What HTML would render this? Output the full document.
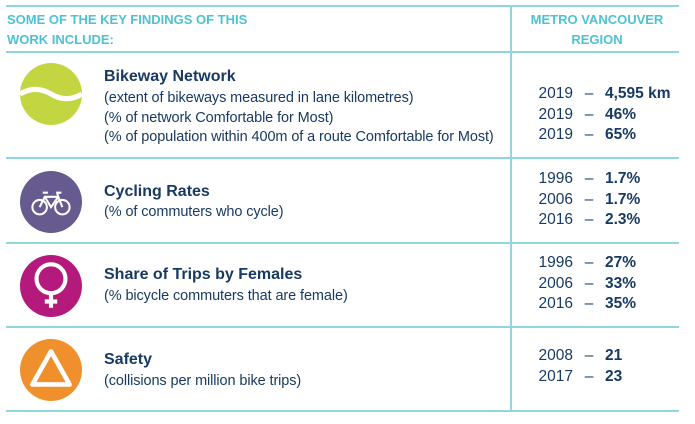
<!DOCTYPE html>
<html><head><style>
body{margin:0;width:695px;height:424px;background:#fff;font-family:"Liberation Sans",sans-serif;color:#183a62;position:relative;overflow:hidden}
.a{position:absolute;white-space:nowrap}
.h{position:absolute;height:2px;background:#8fd6e0;left:6px;width:673px}
.v{position:absolute;left:510px;top:5px;width:2px;height:407px;background:#8fd6e0}
.hd{color:#4cc3d2;font-weight:bold;font-size:13px;line-height:20px}
.t{font-weight:bold;font-size:16px}
.s{font-size:14.5px;line-height:19.5px;letter-spacing:-0.1px}
.val{font-size:15.5px;line-height:20.5px}
.val span{display:inline-block}
.y{width:36px;text-align:right}.d{width:32px;text-align:center}.b{font-weight:bold}
</style></head><body>
<div class="h" style="top:5px"></div>
<div class="h" style="top:51px"></div>
<div class="h" style="top:157px"></div>
<div class="h" style="top:242px"></div>
<div class="h" style="top:326px"></div>
<div class="h" style="top:410px"></div>
<div class="v"></div>
<div class="a hd" style="left:7px;top:10px">SOME OF THE KEY FINDINGS OF THIS<br>WORK INCLUDE:</div>
<div class="a hd" style="left:512px;top:10px;width:170px;text-align:center">METRO VANCOUVER<br>REGION</div>

<svg class="a" style="left:20px;top:63px" width="62" height="62" viewBox="0 0 60 60"><circle cx="30" cy="30" r="30" fill="#c3d541"/><path d="M0 30 Q15 21 30 30 T60 30" fill="none" stroke="#fff" stroke-width="5"/></svg>
<svg class="a" style="left:20px;top:171px" width="62" height="62" viewBox="0 0 60 60"><circle cx="30" cy="30" r="30" fill="#665a8e"/><g fill="none" stroke="#fff" stroke-width="2"><circle cx="19" cy="35" r="7"/><circle cx="41" cy="35" r="7"/><path d="M19 35 L24 25 L37 25 L41 35 M24 25 L30 35 L37 25 M22 21h5 M35 21h5 M37 25 L36 21"/></g></svg>
<svg class="a" style="left:20px;top:255px" width="62" height="62" viewBox="0 0 60 60"><circle cx="30" cy="30" r="30" fill="#b31a7c"/><g fill="none" stroke="#fff" stroke-width="4"><circle cx="30" cy="23" r="14"/><path d="M30 37v14 M24 45h12"/></g></svg>
<svg class="a" style="left:20px;top:339px" width="62" height="62" viewBox="0 0 60 60"><circle cx="30" cy="30" r="30" fill="#f0902c"/><path d="M30 12 L48 44 L12 44Z" fill="none" stroke="#fff" stroke-width="4.5" stroke-linejoin="round"/></svg>

<div class="a t" style="left:104px;top:68px">Bikeway Network</div>
<div class="a s" style="left:104px;top:89px">(extent of bikeways measured in lane kilometres)<br>(% of network Comfortable for Most)<br>(% of population within 400m of a route Comfortable for Most)</div>
<div class="a t" style="left:104px;top:183px">Cycling Rates</div>
<div class="a s" style="left:104px;top:203px">(% of commuters who cycle)</div>
<div class="a t" style="left:104px;top:266px">Share of Trips by Females</div>
<div class="a s" style="left:104px;top:287px">(% bicycle commuters that are female)</div>
<div class="a t" style="left:104px;top:351px">Safety</div>
<div class="a s" style="left:104px;top:372px">(collisions per million bike trips)</div>

<div class="a val" style="left:537px;top:84px"><span class="y">2019</span><span class="d">–</span><span class="b">4,595 km</span><br><span class="y">2019</span><span class="d">–</span><span class="b">46%</span><br><span class="y">2019</span><span class="d">–</span><span class="b">65%</span></div>
<div class="a val" style="left:537px;top:169px"><span class="y">1996</span><span class="d">–</span><span class="b">1.7%</span><br><span class="y">2006</span><span class="d">–</span><span class="b">1.7%</span><br><span class="y">2016</span><span class="d">–</span><span class="b">2.3%</span></div>
<div class="a val" style="left:537px;top:253px"><span class="y">1996</span><span class="d">–</span><span class="b">27%</span><br><span class="y">2006</span><span class="d">–</span><span class="b">33%</span><br><span class="y">2016</span><span class="d">–</span><span class="b">35%</span></div>
<div class="a val" style="left:537px;top:346px"><span class="y">2008</span><span class="d">–</span><span class="b">21</span><br><span class="y">2017</span><span class="d">–</span><span class="b">23</span></div>
</body></html>
